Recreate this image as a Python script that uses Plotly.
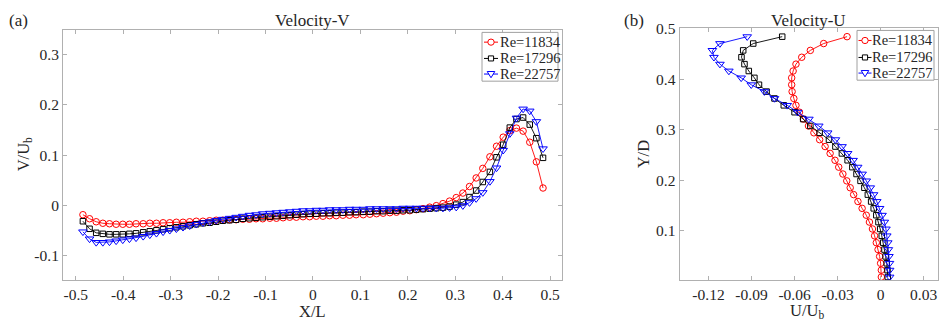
import plotly.graph_objects as go

W, H = 941, 326

# ---------------- data: panel (a) Velocity-V ----------------
x_L = [-0.485, -0.471, -0.457, -0.443, -0.429, -0.415, -0.401, -0.387, -0.373, -0.358,
       -0.344, -0.330, -0.316, -0.302, -0.288, -0.274, -0.260, -0.246, -0.232, -0.218,
       -0.204, -0.190, -0.176, -0.162, -0.148, -0.134, -0.120, -0.106, -0.091, -0.077,
       -0.063, -0.049, -0.035, -0.021, -0.007, 0.007, 0.021, 0.035, 0.049, 0.063,
       0.077, 0.091, 0.106, 0.120, 0.134, 0.148, 0.162, 0.176, 0.190, 0.204,
       0.218, 0.232, 0.246, 0.260, 0.274, 0.288, 0.302, 0.316, 0.330, 0.344,
       0.358, 0.373, 0.387, 0.401, 0.415, 0.429, 0.443, 0.457, 0.471, 0.485]

v_re11834 = [-0.018, -0.026, -0.032, -0.035, -0.036, -0.037, -0.037, -0.037, -0.036, -0.036,
             -0.035, -0.035, -0.034, -0.034, -0.033, -0.033, -0.032, -0.031, -0.031, -0.030,
             -0.029, -0.029, -0.028, -0.028, -0.027, -0.027, -0.026, -0.026, -0.025, -0.025,
             -0.024, -0.023, -0.023, -0.022, -0.022, -0.021, -0.021, -0.020, -0.020, -0.019,
             -0.019, -0.018, -0.018, -0.017, -0.016, -0.015, -0.014, -0.013, -0.011, -0.010,
             -0.008, -0.006, -0.003, 0.000, 0.004, 0.009, 0.016, 0.025, 0.038, 0.055,
             0.074, 0.097, 0.118, 0.136, 0.149, 0.154, 0.148, 0.126, 0.087, 0.035]

v_re17296 = [-0.031, -0.046, -0.054, -0.056, -0.057, -0.057, -0.057, -0.056, -0.055, -0.053,
             -0.051, -0.049, -0.047, -0.045, -0.043, -0.041, -0.039, -0.037, -0.035, -0.034,
             -0.032, -0.030, -0.029, -0.028, -0.026, -0.025, -0.024, -0.023, -0.022, -0.021,
             -0.020, -0.019, -0.018, -0.017, -0.016, -0.016, -0.015, -0.015, -0.014, -0.014,
             -0.013, -0.013, -0.012, -0.012, -0.011, -0.011, -0.010, -0.010, -0.009, -0.009,
             -0.008, -0.007, -0.006, -0.005, -0.004, -0.002, 0.002, 0.007, 0.017, 0.030,
             0.047, 0.067, 0.096, 0.121, 0.155, 0.172, 0.175, 0.161, 0.134, 0.095]

v_re22757 = [-0.052, -0.066, -0.073, -0.073, -0.072, -0.070, -0.068, -0.066, -0.064, -0.061,
             -0.058, -0.055, -0.052, -0.049, -0.046, -0.043, -0.040, -0.037, -0.034, -0.032,
             -0.029, -0.027, -0.025, -0.023, -0.021, -0.019, -0.018, -0.016, -0.015, -0.014,
             -0.013, -0.012, -0.011, -0.010, -0.010, -0.009, -0.009, -0.008, -0.008, -0.008,
             -0.007, -0.007, -0.007, -0.006, -0.006, -0.006, -0.006, -0.006, -0.005, -0.005,
             -0.005, -0.005, -0.005, -0.005, -0.005, -0.004, -0.003, 0.000, 0.006, 0.014,
             0.026, 0.048, 0.075, 0.110, 0.143, 0.174, 0.192, 0.188, 0.167, 0.113]

# ---------------- data: panel (b) Velocity-U ----------------
y_D = [0.008, 0.0216, 0.0352, 0.0488, 0.0624, 0.076, 0.0896, 0.1032, 0.1168, 0.1304,
       0.144, 0.1576, 0.1712, 0.1848, 0.1984, 0.212, 0.2256, 0.2392, 0.2528, 0.2664,
       0.28, 0.2936, 0.3072, 0.3208, 0.3344, 0.348, 0.3616, 0.3752, 0.3888, 0.4024,
       0.416, 0.4296, 0.4432, 0.4568, 0.4704, 0.484]

u_re11834 = [0.0005, 0.0005, 0.0000, -0.0007, -0.0018, -0.0030, -0.0042, -0.0057, -0.0078, -0.0100,
             -0.0129, -0.0158, -0.0188, -0.0212, -0.0236, -0.0263, -0.0292, -0.0318, -0.0352, -0.0387,
             -0.0425, -0.0465, -0.0503, -0.0538, -0.0566, -0.0590, -0.0605, -0.0617, -0.0620, -0.0620,
             -0.0610, -0.0590, -0.0550, -0.0490, -0.0397, -0.0234]

u_re17296 = [0.0050, 0.0048, 0.0043, 0.0035, 0.0027, 0.0018, 0.0008, -0.0003, -0.0015, -0.0030,
             -0.0048, -0.0066, -0.0089, -0.0113, -0.0140, -0.0168, -0.0197, -0.0230, -0.0270, -0.0315,
             -0.0360, -0.0425, -0.0490, -0.0540, -0.0600, -0.0675, -0.0740, -0.0795, -0.0848, -0.0880,
             -0.0919, -0.0949, -0.0970, -0.0958, -0.0888, -0.0686]

u_re22757 = [0.0063, 0.0063, 0.0062, 0.0058, 0.0054, 0.0050, 0.0043, 0.0037, 0.0026, 0.0010,
             -0.0007, -0.0027, -0.0049, -0.0072, -0.0100, -0.0129, -0.0160, -0.0192, -0.0230, -0.0269,
             -0.0315, -0.0369, -0.0431, -0.0500, -0.0578, -0.0651, -0.0740, -0.0810, -0.0902, -0.0972,
             -0.1058, -0.1120, -0.1162, -0.1173, -0.1120, -0.0930]

series_names = ["Re=11834", "Re=17296", "Re=22757"]
series_colors = ["#ff0000", "#000000", "#0000ff"]
series_symbols = ["circle-open", "square-open", "triangle-down-open"]
series_sizes = [6.5, 5.5, 7.5]

xticks_a = [-0.5, -0.4, -0.3, -0.2, -0.1, 0, 0.1, 0.2, 0.3, 0.4, 0.5]
xtext_a = ["-0.5", "-0.4", "-0.3", "-0.2", "-0.1", "0", "0.1", "0.2", "0.3", "0.4", "0.5"]
yticks_a = [-0.1, 0, 0.1, 0.2, 0.3]
ytext_a = ["-0.1", "0", "0.1", "0.2", "0.3"]
xticks_b = [-0.12, -0.09, -0.06, -0.03, 0, 0.03]
xtext_b = ["-0.12", "-0.09", "-0.06", "-0.03", "0", "0.03"]
yticks_b = [0.1, 0.2, 0.3, 0.4, 0.5]
ytext_b = ["0.1", "0.2", "0.3", "0.4", "0.5"]

FONT = "Liberation Serif"
TXT = "#262626"
AX = "#b0b0b0"

fig = go.Figure()
V_list = [v_re11834, v_re17296, v_re22757]
U_list = [u_re11834, u_re17296, u_re22757]
for i in range(3):
    fig.add_trace(go.Scatter(
        x=x_L, y=V_list[i], mode="lines+markers", name=series_names[i],
        line=dict(color=series_colors[i], width=0.9),
        marker=dict(symbol=series_symbols[i], size=series_sizes[i], color=series_colors[i],
                    line=dict(width=1)),
        xaxis="x", yaxis="y", showlegend=False))
for i in range(3):
    fig.add_trace(go.Scatter(
        x=U_list[i], y=y_D, mode="lines+markers", name=series_names[i],
        line=dict(color=series_colors[i], width=0.9),
        marker=dict(symbol=series_symbols[i], size=series_sizes[i], color=series_colors[i],
                    line=dict(width=1)),
        xaxis="x2", yaxis="y2", showlegend=False))


def px(x):
    return x / W


def py(y):
    return 1 - y / H


axis_common = dict(showline=True, linecolor=AX, linewidth=1, mirror="ticks",
                   ticks="inside", ticklen=4, tickcolor=AX, tickwidth=1,
                   showgrid=False, zeroline=False,
                   tickfont=dict(family=FONT, size=15.5, color=TXT))

fig.update_layout(
    width=W, height=H, margin=dict(l=0, r=0, t=0, b=0),
    paper_bgcolor="white", plot_bgcolor="white", showlegend=False,
    xaxis=dict(domain=[px(63), px(562)], range=[-0.527, 0.525], anchor="y",
               tickmode="array", tickvals=xticks_a, ticktext=xtext_a, **axis_common),
    yaxis=dict(domain=[py(279), py(23)], range=[-0.148, 0.348], anchor="x",
               tickmode="array", tickvals=yticks_a, ticktext=ytext_a, **axis_common),
    xaxis2=dict(domain=[px(679.5), px(938)], range=[-0.1402, 0.0400], anchor="y2",
                tickmode="array", tickvals=xticks_b, ticktext=xtext_b, **axis_common),
    yaxis2=dict(domain=[py(279), py(21)], range=[0.0018, 0.5002], anchor="x2",
                tickmode="array", tickvals=yticks_b, ticktext=ytext_b, **axis_common),
)

annotations = []


def text(x, y, s, size, xanchor="center", angle=0):
    annotations.append(dict(x=px(x), y=py(y), xref="paper", yref="paper", text=s,
                            showarrow=False, xanchor=xanchor, yanchor="middle",
                            textangle=angle, font=dict(family=FONT, size=size, color=TXT)))


text(18, 13, "(a)", 17)
text(312, 13, "Velocity-V", 17)
text(634, 13, "(b)", 17)
text(808, 13, "Velocity-U", 17)
text(312, 311, "X/L", 16.5)
text(24, 150, "V/U<sub>b</sub>", 16.5, angle=-90)
text(807, 311, "U/U<sub>b</sub>", 16.5)
text(643, 150, "Y/D", 16.5, angle=-90)

shapes = []


def legend(box, rows, x_line, x_mark, x_text):
    x0, x1, y0, y1 = box
    shapes.append(dict(type="rect", xref="paper", yref="paper", x0=px(x0), x1=px(x1),
                       y0=py(y1), y1=py(y0), line=dict(color="#a0a0a0", width=1),
                       fillcolor="white", layer="above"))
    for i, yy in enumerate(rows):
        c = series_colors[i]
        shapes.append(dict(type="line", xref="paper", yref="paper", x0=px(x_line[0]),
                           x1=px(x_line[1]), y0=py(yy), y1=py(yy),
                           line=dict(color=c, width=1), layer="above"))
        if i == 0:
            shapes.append(dict(type="circle", xref="paper", yref="paper",
                               x0=px(x_mark - 3.2), x1=px(x_mark + 3.2),
                               y0=py(yy + 3.2), y1=py(yy - 3.2),
                               line=dict(color=c, width=1), fillcolor="white", layer="above"))
        elif i == 1:
            shapes.append(dict(type="rect", xref="paper", yref="paper",
                               x0=px(x_mark - 2.6), x1=px(x_mark + 2.6),
                               y0=py(yy + 2.6), y1=py(yy - 2.6),
                               line=dict(color=c, width=1), fillcolor="white", layer="above"))
        else:
            path = "M {a},{b} L {c},{b} L {d},{e} Z".format(
                a=px(x_mark - 3.8), b=py(yy - 2.6), c=px(x_mark + 3.8),
                d=px(x_mark), e=py(yy + 3.8))
            shapes.append(dict(type="path", xref="paper", yref="paper", path=path,
                               line=dict(color=c, width=1), fillcolor="white", layer="above"))
        annotations.append(dict(x=px(x_text), y=py(yy), xref="paper", yref="paper",
                                text=series_names[i], showarrow=False, xanchor="left",
                                yanchor="middle",
                                font=dict(family=FONT, size=14.5, color=TXT)))


legend((482, 558, 25, 75), [35, 51.7, 67.7], (484, 498), 491, 497.5)
legend((857, 934, 23, 74), [33.3, 50.7, 66.7], (858.5, 871.5), 865, 870)

fig.update_layout(annotations=annotations, shapes=shapes)

fig.write_html("out.html")
